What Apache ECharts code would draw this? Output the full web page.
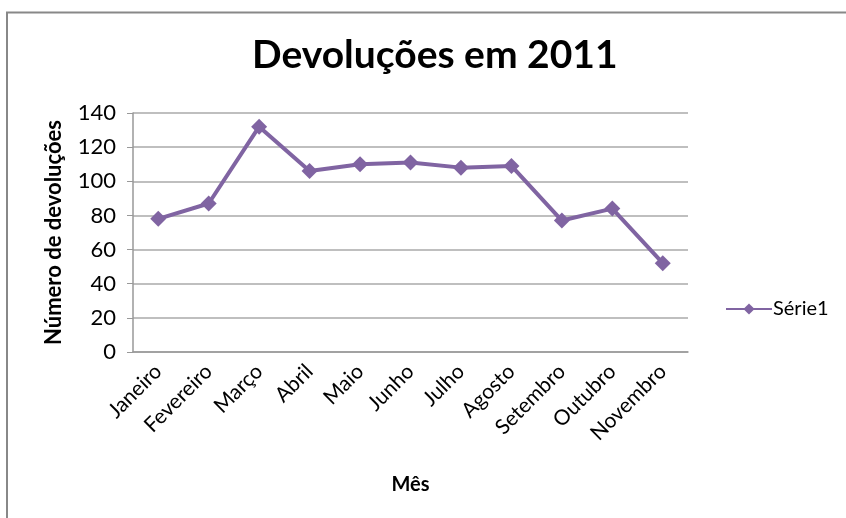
<!DOCTYPE html>
<html><head><meta charset="utf-8">
<script src="https://cdn.jsdelivr.net/npm/echarts@6/dist/echarts.min.js"></script>
<style>html,body{margin:0;padding:0;background:#fff}#c{width:846px;height:518px}</style>
</head><body><div id="c"></div>
<script>
const categories = ['Janeiro','Fevereiro','Março','Abril','Maio','Junho','Julho','Agosto','Setembro','Outubro','Novembro'];
const serie1 = [78, 87, 132, 106, 110, 111, 108, 109, 77, 84, 52];
const yTicks = {min: 0, max: 140, interval: 20};
const FONT = 'Lato';
const chart = echarts.init(document.getElementById('c'), null, {renderer: 'canvas'});
chart.setOption({
  backgroundColor: '#fff',
  animation: false,
  graphic: [{type: 'rect', shape: {x: 7, y: 12.5, width: 900, height: 600}, style: {fill: 'none', stroke: '#888', lineWidth: 2}, silent: true}],
  title: {text: 'Devoluções em 2011', left: 252, top: 36, textStyle: {fontFamily: FONT, fontWeight: 'bold', fontSize: 39, color: '#000'}, padding: 0},
  legend: {data: ['Série1'], left: 720, top: 294, orient: 'vertical', itemWidth: 46, itemHeight: 14,
    textStyle: {fontFamily: FONT, fontSize: 20, color: '#000', padding: [0, 0, 0, -4]}, itemGap: 4},
  grid: {left: 133, right: 158, top: 113, bottom: 166},
  xAxis: {type: 'category', data: categories, boundaryGap: true,
    name: 'Mês', nameLocation: 'middle', nameGap: 123, nameTextStyle: {fontFamily: FONT, fontWeight: 'bold', fontSize: 20, color: '#000'},
    axisLine: {lineStyle: {color: '#999', width: 1.5}}, axisTick: {show: false},
    axisLabel: {rotate: 45, fontFamily: FONT, fontSize: 21, color: '#000', margin: 16}},
  yAxis: {type: 'value', min: yTicks.min, max: yTicks.max, interval: yTicks.interval,
    name: 'Número de devoluções', nameLocation: 'middle', nameGap: 68, nameTextStyle: {fontFamily: FONT, fontWeight: 'bold', fontSize: 22, color: '#000'},
    axisLine: {show: true, lineStyle: {color: '#999', width: 1.5}}, axisTick: {show: true, length: 6, lineStyle: {color: '#999'}},
    splitLine: {lineStyle: {color: '#aaa', width: 1.5}},
    axisLabel: {fontFamily: FONT, fontSize: 22, color: '#000', margin: 17}},
  series: [{name: 'Série1', type: 'line', data: serie1, symbol: 'diamond', symbolSize: 16,
    lineStyle: {color: '#8064A2', width: 4}, itemStyle: {color: '#8064A2'}}]
});
</script></body></html>
